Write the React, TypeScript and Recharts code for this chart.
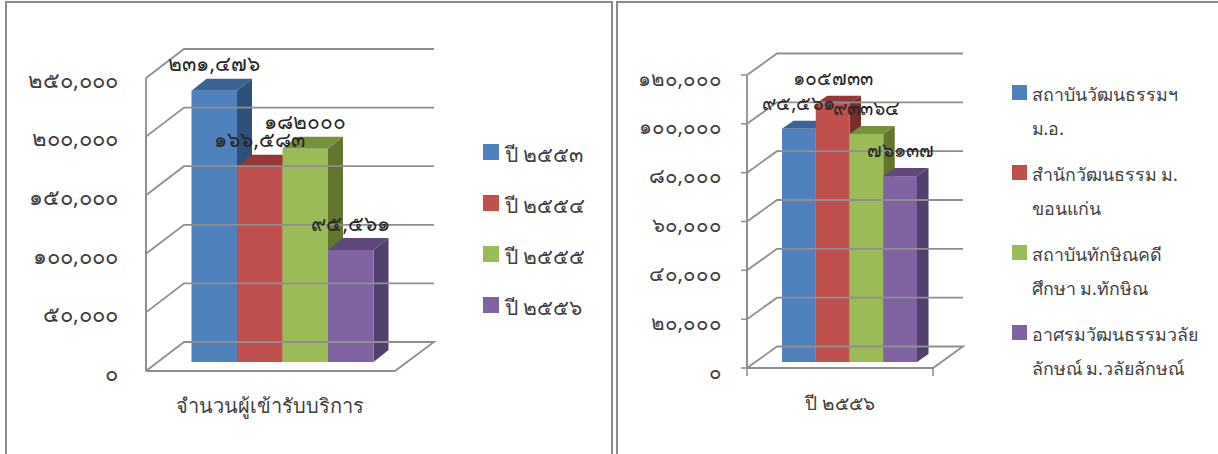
import React from 'react';
import { BarChart, Bar, XAxis, YAxis, Legend } from 'recharts';

const seriesKeys = ['a', 'b', 'c', 'd'];

const yearCategories = ['จำนวนผู้เข้ารับบริการ'];
const yearNames = ['ปี ๒๕๕๓', 'ปี ๒๕๕๔', 'ปี ๒๕๕๕', 'ปี ๒๕๕๖'];
const yearValues = [231476, 166583, 182000, 95561];
const yearLabels = ['๒๓๑,๔๗๖', '๑๖๖,๕๘๓', '๑๘๒๐๐๐', '๙๕,๕๖๑'];
const yearTicks = [0, 50000, 100000, 150000, 200000, 250000];
const yearTickLabels = ['๐', '๕๐,๐๐๐', '๑๐๐,๐๐๐', '๑๕๐,๐๐๐', '๒๐๐,๐๐๐', '๒๕๐,๐๐๐'];

const unitCategories = ['ปี ๒๕๕๖'];
const unitNames = [
  'สถาบันวัฒนธรรมฯ ม.อ.',
  'สำนักวัฒนธรรม ม. ขอนแก่น',
  'สถาบันทักษิณคดีศึกษา ม.ทักษิณ',
  'อาศรมวัฒนธรรมวลัยลักษณ์ ม.วลัยลักษณ์',
];
const unitLegendLines = [
  ['สถาบันวัฒนธรรมฯ', 'ม.อ.'],
  ['สำนักวัฒนธรรม ม.', 'ขอนแก่น'],
  ['สถาบันทักษิณคดี', 'ศึกษา ม.ทักษิณ'],
  ['อาศรมวัฒนธรรมวลัย', 'ลักษณ์ ม.วลัยลักษณ์'],
];
const unitValues = [95561, 105733, 93364, 76137];
const unitLabels = ['๙๕,๕๖๑', '๑๐๕๗๓๓', '๙๓๓๖๔', '๗๖๑๓๗'];
const unitTicks = [0, 20000, 40000, 60000, 80000, 100000, 120000];
const unitTickLabels = ['๐', '๒๐,๐๐๐', '๔๐,๐๐๐', '๖๐,๐๐๐', '๘๐,๐๐๐', '๑๐๐,๐๐๐', '๑๒๐,๐๐๐'];

const frontColors = ['#4F81BD', '#C0504D', '#9BBB59', '#8064A2'];
const topColors = ['#3B6494', '#953735', '#76923C', '#5F497A'];
const sideColors = ['#2F5078', '#7A2E2C', '#63752F', '#533F6B'];

const FONT = '"Noto Sans", "DejaVu Sans", sans-serif';
const WALL = '#8f8f8f';

const makeRow = (cat: string, values: number[]) => {
  const row: any = { name: cat };
  seriesKeys.forEach((k, i) => (row[k] = values[i]));
  return row;
};

const Bar3D = (p: any) => {
  const { x, y, width, height, fill, depthX, depthY, idx } = p;
  const r = x + width;
  const b = y + height;
  return (
    <g>
      <polygon points={`${x},${y} ${x + depthX},${y - depthY} ${r + depthX},${y - depthY} ${r},${y}`} fill={topColors[idx]} />
      <polygon points={`${r},${y} ${r + depthX},${y - depthY} ${r + depthX},${b - depthY} ${r},${b}`} fill={sideColors[idx]} />
      <rect x={x} y={y} width={width} height={height} fill={fill} />
    </g>
  );
};

const Chart3D = ({ left, width, data, names, labels, ticks, tickLabels, max, geo, legend }: any) => {
  const margin = { top: 69, left: 0, right: geo.marginRight, bottom: 62 };

  const renderTick = (p: any) => {
    const y = p.y;
    const isBase = p.payload.value === 0;
    const fy = y + geo.frontDy;
    const by = y + geo.backDy;
    return (
      <g>
        <path
          d={`M${geo.wallX},${fy} L${geo.backX},${by} L${geo.backEnd},${by}${
            isBase ? ` L${geo.floorEnd},${fy} L${geo.wallX},${fy}` : ` M${geo.wallX},${fy} V${geo.floorY}`
          }`}
          fill="none"
          stroke={WALL}
          strokeWidth={1.8}
        />
        {geo.tickLen > 0 && (
          <path d={`M${geo.wallX - geo.tickLen},${fy} H${geo.wallX}`} stroke={WALL} strokeWidth={1.5} />
        )}
        {isBase && geo.tickLen > 0 && (
          <path
            d={`M${geo.wallX},${fy} v${geo.tickLen + 2} M${geo.floorEnd},${fy} v${geo.tickLen + 2}`}
            stroke={WALL}
            strokeWidth={1.5}
          />
        )}
        <text x={geo.labelX} y={y + geo.labelDy} textAnchor="end" dominantBaseline="middle" fontSize={geo.tickSize} fontFamily={FONT} fill="#404040">
          {tickLabels[p.index]}
        </text>
      </g>
    );
  };

  const renderCat = (p: any) => (
    <text x={p.x + geo.catDx} y={geo.catY} textAnchor="middle" dominantBaseline="middle" fontSize={geo.catSize} fontFamily={FONT} fill="#404040">
      {p.payload.value}
    </text>
  );

  return (
    <div style={{ position: 'absolute', left, top: 0 }}>
      <BarChart width={width} height={454} data={data} barCategoryGap={0} barGap={0} barSize={geo.barSize} margin={margin}>
        <YAxis width={geo.yWidth} domain={[0, max]} ticks={ticks} interval={0} axisLine={false} tickLine={false} tick={renderTick} />
        <XAxis dataKey="name" height={30} axisLine={false} tickLine={false} tick={renderCat} />
        <Legend
          layout="vertical"
          align="right"
          verticalAlign="top"
          width={legend.width}
          wrapperStyle={{ left: legend.x, top: legend.y, right: 'auto', bottom: 'auto' }}
          content={legend.render}
        />
        {seriesKeys.map((k, i) => (
          <Bar
            key={k}
            dataKey={k}
            name={names[i]}
            fill={frontColors[i]}
            isAnimationActive={false}
            shape={(s: any) => <Bar3D {...s} depthX={geo.depthX} depthY={geo.depthY} idx={i} />}
          />
        ))}
      </BarChart>
      {/* labels sit over every bar, so they get a second chart on top with the same scales */}
      <div style={{ position: 'absolute', left: 0, top: 0, pointerEvents: 'none' }}>
        <BarChart
          width={width}
          height={454}
          data={data}
          barCategoryGap={0}
          barGap={0}
          barSize={geo.barSize}
          margin={{ ...margin, right: geo.marginRight + legend.width }}
        >
          <YAxis width={geo.yWidth} domain={[0, max]} ticks={ticks} axisLine={false} tickLine={false} tick={false} />
          <XAxis dataKey="name" height={30} axisLine={false} tickLine={false} tick={false} />
          {seriesKeys.map((k, i) => (
            <Bar
              key={k}
              dataKey={k}
              fill="none"
              isAnimationActive={false}
              label={(l: any) => (
                <text x={l.x + l.width / 2} y={l.y - geo.labelUp} textAnchor="middle" dominantBaseline="middle" fontSize={geo.dataSize} fontFamily={FONT} fill="#262626">
                  {labels[i]}
                </text>
              )}
            />
          ))}
        </BarChart>
      </div>
    </div>
  );
};

const yearLegend = () => (
  <div style={{ fontFamily: FONT, color: '#404040', fontSize: 21 }}>
    {yearNames.map((n, i) => (
      <div key={n} style={{ position: 'absolute', left: 0, top: i * 51, whiteSpace: 'nowrap', height: 30 }}>
        <span style={{ position: 'absolute', left: 0, top: 0, width: 16, height: 16, background: frontColors[i] }} />
        <span style={{ position: 'absolute', left: 22, top: -5, lineHeight: '30px' }}>{n}</span>
      </div>
    ))}
  </div>
);

const unitLegend = () => (
  <div style={{ fontFamily: FONT, color: '#404040', fontSize: 17.8 }}>
    {unitNames.map((n, i) => (
      <div key={n} style={{ position: 'absolute', left: 0, top: i * 80, whiteSpace: 'nowrap' }}>
        <span style={{ position: 'absolute', left: 0, top: 0, width: 15, height: 15, background: frontColors[i] }} />
        {unitLegendLines[i].map((t, j) => (
          <span key={t} style={{ position: 'absolute', left: 20, top: -6 + j * 34, lineHeight: '30px' }}>{t}</span>
        ))}
      </div>
    ))}
  </div>
);

// the band is 1px wider than the four bars: recharts shrinks them when they fill it exactly
const yearGeo = {
  marginRight: 116.5, yWidth: 190.5, barSize: 45.5, wallX: 146, backX: 184, backEnd: 434, floorEnd: 395, floorY: 371,
  frontDy: 9, backDy: -20, labelX: 118, labelDy: 13, tickLen: 0, tickSize: 22, catDx: -12, catY: 408, catSize: 20,
  depthX: 15, depthY: 12, labelUp: 25, dataSize: 21,
};
const unitGeo = {
  marginRight: 111, yWidth: 171, barSize: 33.75, wallX: 137, backX: 167, backEnd: 353, floorEnd: 323, floorY: 368,
  frontDy: 6, backDy: -15.5, labelX: 112, labelDy: 11, tickLen: 6, tickSize: 20.5, catDx: -9, catY: 405, catSize: 19,
  depthX: 11.5, depthY: 8, labelUp: 24, dataSize: 19.5,
};

export default function App() {
  return (
    <div style={{ position: 'absolute', left: 0, top: 0, width: 1218, height: 454, background: '#fff', overflow: 'hidden' }}>
      <div style={{ position: 'absolute', left: 5, top: 1, width: 604, height: 453, borderLeft: '2px solid #8c8c8c', borderTop: '2px solid #8c8c8c', borderRight: '2px solid #8c8c8c' }} />
      <div style={{ position: 'absolute', left: 616, top: 1, width: 602, height: 453, borderLeft: '2px solid #8c8c8c', borderTop: '2px solid #8c8c8c' }} />
      <Chart3D
        left={0}
        width={610}
        data={[makeRow(yearCategories[0], yearValues)]}
        names={yearNames}
        labels={yearLabels}
        ticks={yearTicks}
        tickLabels={yearTickLabels}
        max={250000}
        geo={yearGeo}
        legend={{ width: 120, x: 483, y: 144, render: yearLegend }}
      />
      <Chart3D
        left={610}
        width={608}
        data={[makeRow(unitCategories[0], unitValues)]}
        names={unitNames}
        labels={unitLabels}
        ticks={unitTicks}
        tickLabels={unitTickLabels}
        max={120000}
        geo={unitGeo}
        legend={{ width: 190, x: 401.5, y: 85, render: unitLegend }}
      />
    </div>
  );
}
